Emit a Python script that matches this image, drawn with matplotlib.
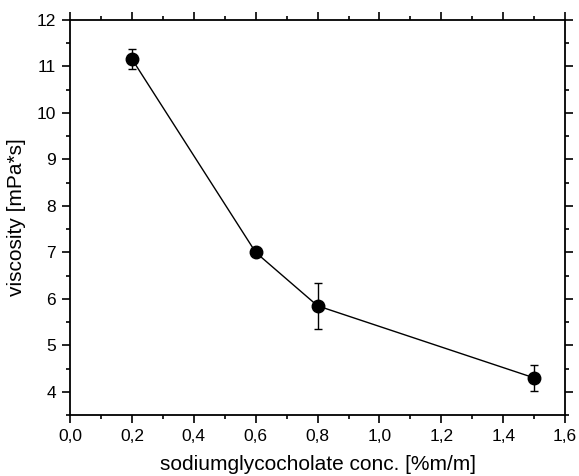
import matplotlib
matplotlib.use('Agg')
import matplotlib.pyplot as plt
from matplotlib.ticker import MultipleLocator, FuncFormatter

# Daten
conc = [0.2, 0.6, 0.8, 1.5]
viscosity = [11.16, 7.0, 5.85, 4.3]
viscosity_err = [0.21, 0.03, 0.5, 0.28]

plt.rcParams['font.family'] = ['Liberation Sans', 'DejaVu Sans']

fig = plt.figure(figsize=(5.79, 4.76), dpi=100)
ax = fig.add_axes([0.121, 0.128, 0.855, 0.830])

ax.errorbar(conc, viscosity, yerr=viscosity_err, fmt='-o', color='black',
            markersize=9, linewidth=1.0, elinewidth=1.0, capsize=3, capthick=1.0)

ax.set_xlim(0.0, 1.6)
ax.set_ylim(3.5, 12)
ax.xaxis.set_major_locator(MultipleLocator(0.2))
ax.xaxis.set_minor_locator(MultipleLocator(0.1))
ax.yaxis.set_major_locator(MultipleLocator(1))
ax.yaxis.set_minor_locator(MultipleLocator(0.5))
ax.xaxis.set_major_formatter(FuncFormatter(lambda v, p: f"{v:.1f}".replace('.', ',')))

ax.tick_params(which='both', direction='out', top=True, right=True,
               labeltop=False, labelright=False, width=1.2, labelsize=12.5)
ax.tick_params(which='major', length=6, pad=4)
ax.tick_params(which='minor', length=3)
for s in ax.spines.values():
    s.set_linewidth(1.3)

ax.set_xlabel('sodiumglycocholate conc. [%m/m]', fontsize=15, labelpad=8)
ax.set_ylabel('viscosity [mPa*s]', fontsize=15, labelpad=8)

fig.savefig('out.png', dpi=100)
